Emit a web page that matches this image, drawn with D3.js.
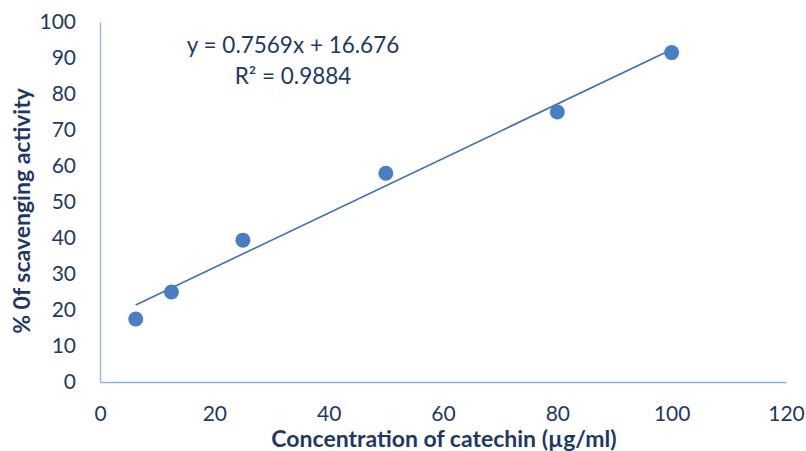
<!DOCTYPE html>
<html>
<head>
<meta charset="utf-8">
<script src="https://cdn.jsdelivr.net/npm/d3@7"></script>
<style>
  body { margin: 0; background: #fff; }
  svg { display: block; }
  text { font-family: Lato, "Open Sans", sans-serif; fill: #1f3864; }
</style>
</head>
<body>
<svg id="chart" width="806" height="451"></svg>
<script>
// Catechin concentration (µg/ml) and measured scavenging activity (%)
const concentration = [6.25, 12.5, 25, 50, 80, 100];
const scavenging = [17.5, 25.0, 39.4, 58.0, 75.0, 91.5];

// Linear trendline
const slope = 0.7569;
const intercept = 16.676;
const rSquared = 0.9884;

const xTicks = [0, 20, 40, 60, 80, 100, 120];
const yTicks = [0, 10, 20, 30, 40, 50, 60, 70, 80, 90, 100];

const svg = d3.select("#chart");

const x = d3.scaleLinear().domain([0, 120]).range([100, 786]);
const y = d3.scaleLinear().domain([0, 100]).range([382, 22]);

const axisColor = "#8db3e2";
const tickFont = "21px";

// x axis
const gx = svg.append("g").attr("transform", `translate(0,${y(0)})`)
  .call(d3.axisBottom(x).tickValues(xTicks).tickSize(0).tickPadding(24));
gx.select(".domain").attr("stroke", axisColor).attr("stroke-width", 1.3);
gx.selectAll("text").style("font-size", tickFont).attr("fill", "#1f3864")
  .style("font-family", "Lato, 'Open Sans', sans-serif");

// y axis
const gy = svg.append("g").attr("transform", `translate(${x(0)},0)`)
  .call(d3.axisLeft(y).tickValues(yTicks).tickSize(0).tickPadding(24));
gy.select(".domain").attr("stroke", axisColor).attr("stroke-width", 1.3);
gy.selectAll("text").style("font-size", tickFont).attr("fill", "#1f3864")
  .style("font-family", "Lato, 'Open Sans', sans-serif");

// trendline over the measured range
const x0 = d3.min(concentration), x1 = d3.max(concentration);
svg.append("line")
  .attr("x1", x(x0)).attr("y1", y(slope * x0 + intercept))
  .attr("x2", x(x1)).attr("y2", y(slope * x1 + intercept))
  .attr("stroke", "#3f6fb5").attr("stroke-width", 1.6);

// data points
svg.selectAll("circle.pt")
  .data(concentration.map((c, i) => [c, scavenging[i]]))
  .join("circle")
  .attr("class", "pt")
  .attr("cx", d => x(d[0]))
  .attr("cy", d => y(d[1]))
  .attr("r", 7.5)
  .attr("fill", "#4a7ec2");

// equation label
const eq = svg.append("text").attr("text-anchor", "middle")
  .style("font-size", "22.5px");
eq.append("tspan").attr("x", 293).attr("y", 53)
  .text(`y = ${slope}x + ${intercept}`);
eq.append("tspan").attr("x", 293).attr("y", 84)
  .text(`R² = ${rSquared}`);

// axis titles
svg.append("text")
  .attr("x", 444).attr("y", 447)
  .attr("text-anchor", "middle")
  .style("font-size", "23px").style("font-weight", "bold")
  .text("Concentration of catechin (µg/ml)");

svg.append("text")
  .attr("transform", "translate(30,211) rotate(-90)")
  .attr("text-anchor", "middle")
  .style("font-size", "23px").style("font-weight", "bold")
  .text("% 0f scavenging activity");
</script>
</body>
</html>
